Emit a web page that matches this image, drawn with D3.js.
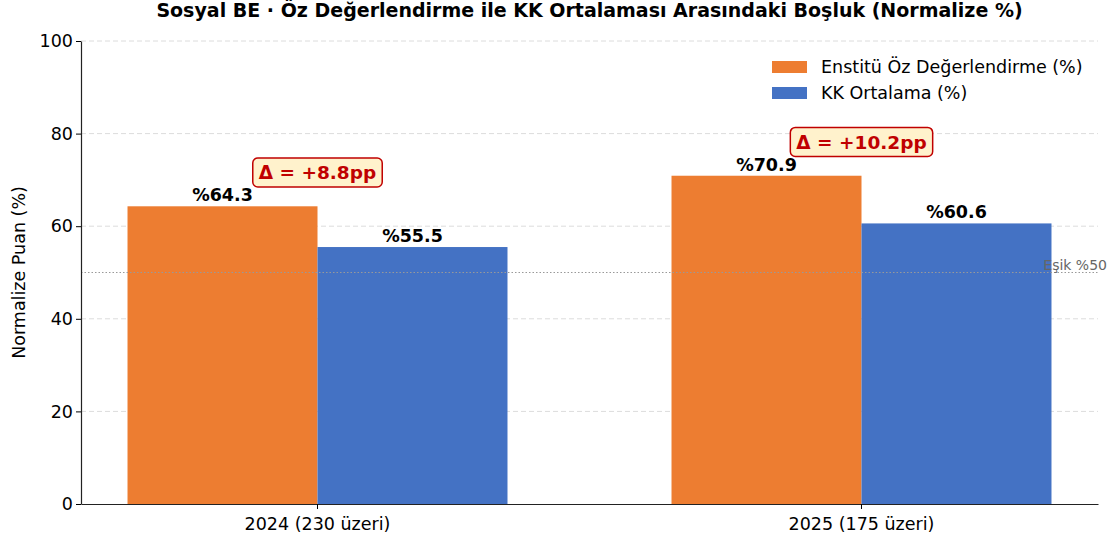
<!DOCTYPE html>
<html>
<head>
<meta charset="utf-8">
<script src="https://cdn.jsdelivr.net/npm/d3@7"></script>
<style>
  body { margin: 0; background: #fff; }
  svg { font-family: "DejaVu Sans", sans-serif; }
</style>
</head>
<body>
<div class="chart"></div>
<script>
const categories = ['2024 (230 üzeri)', '2025 (175 üzeri)'];
const series = ['Enstitü Öz Değerlendirme (%)', 'KK Ortalama (%)'];
const ozValues = [64.3, 70.9];
const kkValues = [55.5, 60.6];
const deltas = ['+8.8', '+10.2'];
const yTicks = [0, 20, 40, 60, 80, 100];
const threshold = 50;
const colors = ['#ED7D31', '#4472C4'];

const width = 1112;
const height = 543;
const m = {left: 81, right: 14, top: 41, bottom: 39};

const data = categories.map((c, i) => ({cat: c, vals: [ozValues[i], kkValues[i]], delta: deltas[i]}));

const svg = d3.select('.chart')
	.append('svg')
	.attr('width', width)
	.attr('height', height);

const x = d3.scaleBand()
	.domain(categories)
	.range([m.left, width - m.right])
	.paddingInner(0.3015)
	.paddingOuter(0.0855);
const xs = d3.scaleBand().domain(series).range([0, x.bandwidth()]);
const y = d3.scaleLinear().domain([0, 100]).range([height - m.bottom, m.top]);

// grid
svg.selectAll('line.grid')
	.data(yTicks.filter(d => d > 0))
	.enter()
	.append('line')
	.attr('x1', m.left).attr('x2', width - m.right)
	.attr('y1', d => y(d)).attr('y2', d => y(d))
	.attr('stroke', '#dcdcdc')
	.attr('stroke-dasharray', '5,3');

// bars
const g = svg.selectAll('g.cat')
	.data(data)
	.enter()
	.append('g')
	.attr('transform', d => `translate(${x(d.cat)},0)`);

g.selectAll('rect')
	.data(d => d.vals.map((v, j) => ({s: series[j], v, j})))
	.enter()
	.append('rect')
	.attr('x', d => xs(d.s))
	.attr('y', d => y(d.v))
	.attr('width', xs.bandwidth())
	.attr('height', d => y(0) - y(d.v))
	.attr('fill', d => colors[d.j]);

g.selectAll('text.val')
	.data(d => d.vals.map((v, j) => ({s: series[j], v})))
	.enter()
	.append('text')
	.attr('x', d => xs(d.s) + xs.bandwidth() / 2)
	.attr('y', d => y(d.v) - 5)
	.attr('text-anchor', 'middle')
	.attr('font-size', '17.5px')
	.attr('font-weight', 'bold')
	.attr('fill', '#000')
	.text(d => '%' + d.v.toFixed(1));

// threshold
svg.append('line')
	.attr('x1', m.left).attr('x2', width - m.right)
	.attr('y1', y(threshold)).attr('y2', y(threshold))
	.attr('stroke', '#999')
	.attr('stroke-width', 1.2)
	.attr('stroke-dasharray', '1.5,2');
svg.append('text')
	.attr('x', width - 5)
	.attr('y', y(threshold) - 3)
	.attr('text-anchor', 'end')
	.attr('font-size', '14px')
	.attr('fill', '#666')
	.text('Eşik %' + threshold);

// delta boxes
data.forEach(d => {
	const cx = x(d.cat) + x.bandwidth() / 2;
	const cy = y(d3.max(d.vals) + 7.3);
	const t = svg.append('text')
		.attr('x', cx)
		.attr('y', cy)
		.attr('dy', '0.36em')
		.attr('text-anchor', 'middle')
		.attr('font-size', '18.5px')
		.attr('font-weight', 'bold')
		.attr('fill', '#C00000')
		.text('Δ = ' + d.delta + 'pp');
	const bb = t.node().getBBox();
	svg.insert('rect', () => t.node())
		.attr('x', bb.x - 6)
		.attr('y', cy - 14.5)
		.attr('width', bb.width + 12)
		.attr('height', 29)
		.attr('rx', 5)
		.attr('fill', '#FFF2CC')
		.attr('stroke', '#C00000')
		.attr('stroke-width', 1.5);
});

// axes
svg.append('g')
	.attr('transform', `translate(0,${height - m.bottom})`)
	.call(d3.axisBottom(x).tickSize(5).tickSizeOuter(0))
	.call(a => a.select('.domain').attr('stroke', '#222').attr('stroke-width', 1.2))
	.call(a => a.selectAll('text').attr('font-size', '17.5px').attr('fill', '#000').attr('dy', '1.05em'))
	.call(a => a.attr('font-family', null));

svg.append('g')
	.attr('transform', `translate(${m.left},0)`)
	.call(d3.axisLeft(y).tickValues(yTicks).tickSize(5).tickSizeOuter(0))
	.call(a => a.select('.domain').attr('stroke', '#222').attr('stroke-width', 1.2))
	.call(a => a.selectAll('text').attr('font-size', '17.5px').attr('fill', '#000'))
	.call(a => a.attr('font-family', null));

svg.append('text')
	.attr('transform', `translate(25,${y(50)}) rotate(-90)`)
	.attr('text-anchor', 'middle')
	.attr('font-size', '17.5px')
	.text('Normalize Puan (%)');

svg.append('text')
	.attr('x', (m.left + width - m.right) / 2)
	.attr('y', 17)
	.attr('text-anchor', 'middle')
	.attr('font-size', '19px')
	.attr('font-weight', 'bold')
	.text('Sosyal BE · Öz Değerlendirme ile KK Ortalaması Arasındaki Boşluk (Normalize %)');

// legend
const lg = svg.selectAll('g.legend')
	.data(series)
	.enter()
	.append('g')
	.attr('transform', (d, i) => `translate(772,${61 + i * 26})`);
lg.append('rect')
	.attr('width', 35).attr('height', 12)
	.attr('fill', (d, i) => colors[i]);
lg.append('text')
	.attr('x', 49).attr('y', 6)
	.attr('dy', '0.36em')
	.attr('font-size', '17.5px')
	.text(d => d);
</script>
</body>
</html>
